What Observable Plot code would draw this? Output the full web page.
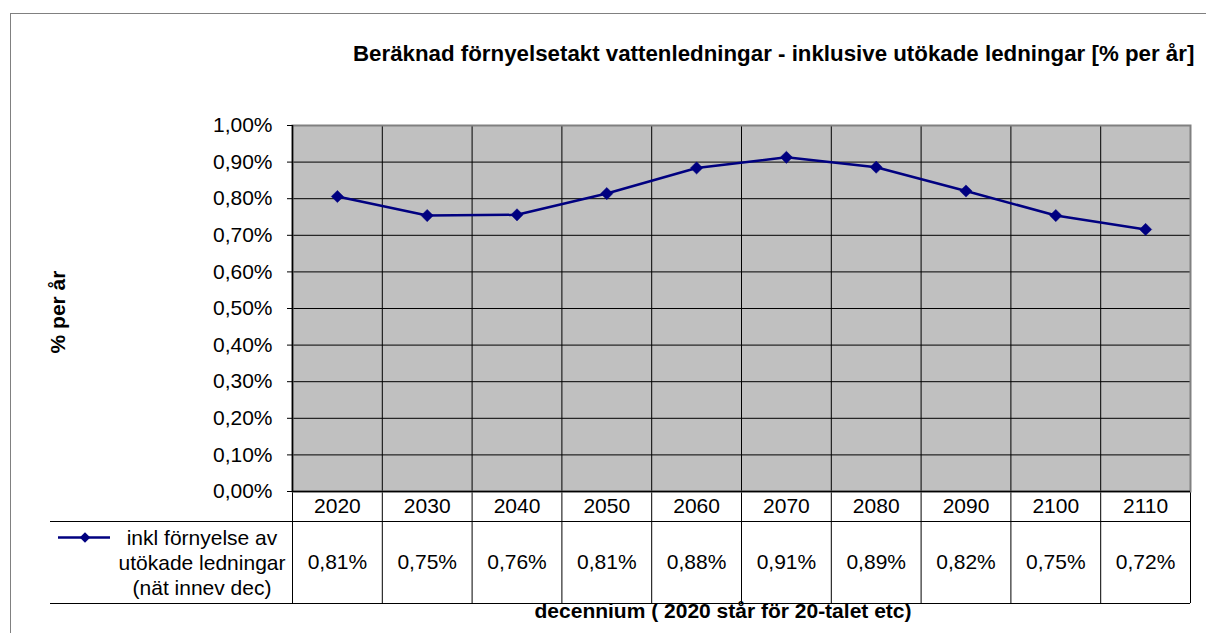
<!DOCTYPE html>
<html><head><meta charset="utf-8">
<script src="https://cdn.jsdelivr.net/npm/d3@7"></script>
<script src="https://cdn.jsdelivr.net/npm/@observablehq/plot@0.6"></script>
<style>
body{margin:0;background:#fff;}
#wrap{position:relative;width:1206px;height:633px;overflow:hidden;font-family:"Liberation Sans",Arial,sans-serif;}
#border{position:absolute;left:10px;top:13px;width:1300px;height:700px;border:1px solid #808080;}
#chart{position:absolute;left:0;top:0;}
</style></head><body>
<div id="wrap"><div id="border"></div><div id="chart"></div></div>
<script>
// ---- data ----
const decades = [2020, 2030, 2040, 2050, 2060, 2070, 2080, 2090, 2100, 2110];
const rates = [0.806, 0.754, 0.756, 0.814, 0.884, 0.913, 0.886, 0.821, 0.754, 0.716]; // % per år
const yTicks = [0, 0.1, 0.2, 0.3, 0.4, 0.5, 0.6, 0.7, 0.8, 0.9, 1.0];
const seriesName = ["inkl förnyelse av", "utökade ledningar", "(nät innev dec)"];
const title = "Beräknad förnyelsetakt vattenledningar - inklusive utökade ledningar [% per år]";
const yTitle = "% per år";
const xTitle = "decennium ( 2020 står för 20-talet etc)";

const fmtPct = d => d.toFixed(2).replace(".", ",") + "%";
const data = decades.map((d, i) => ({decade: d, rate: rates[i], label: fmtPct(rates[i])}));
const bounds = decades.map(d => d - 5).concat([decades[decades.length - 1] + 5]);
const navy = "#000080";
const font = "'Liberation Sans', Arial, sans-serif";

const plot = Plot.plot({
  width: 1206, height: 633,
  marginLeft: 292, marginRight: 16, marginTop: 125, marginBottom: 142,
  style: {fontFamily: font, fontSize: "21px", background: "transparent", color: "black", overflow: "visible"},
  x: {type: "linear", domain: [bounds[0], bounds[bounds.length - 1]], axis: null},
  y: {domain: [0, 1], axis: null},
  marks: [
    Plot.frame({fill: "#c0c0c0"}),
    Plot.ruleY(yTicks, {stroke: "black", strokeWidth: 1}),
    Plot.ruleX(bounds, {stroke: "black", strokeWidth: 1, insetBottom: -112}),
    Plot.ruleY([0], {stroke: "black", dy: 30, insetLeft: -242}),
    Plot.ruleY([0], {stroke: "black", dy: 112, insetLeft: -242}),
    Plot.frame({stroke: "#808080", strokeWidth: 2}),
    Plot.ruleY([0], {stroke: "black", strokeWidth: 1.5}),
    Plot.ruleX([bounds[0]], {stroke: "black", strokeWidth: 1.5}),
    Plot.axisY({ticks: yTicks, tickFormat: fmtPct, tickSize: 5, tickPadding: 15, fontSize: 21, label: null, stroke: "black"}),
    Plot.line(data, {x: "decade", y: "rate", stroke: navy, strokeWidth: 2.5}),
    Plot.dot(data, {x: "decade", y: "rate", symbol: "diamond2", r: 5.5, fill: navy, stroke: navy, strokeWidth: 0.5}),
    Plot.text(decades, {x: d => d, text: d => String(d), frameAnchor: "bottom", lineAnchor: "middle", dy: 15, fontSize: 21, fill: "black"}),
    Plot.text(data, {x: "decade", text: "label", frameAnchor: "bottom", lineAnchor: "middle", dy: 71, fontSize: 21, fill: "black"})
  ]
});
document.getElementById("chart").appendChild(plot);

const svg = d3.select(plot);
const g = svg.append("g").attr("font-family", font).attr("fill", "black");
// legend cell
g.append("line").attr("x1", 58).attr("x2", 110).attr("y1", 537.5).attr("y2", 537.5).attr("stroke", navy).attr("stroke-width", 2.5);
g.append("path").attr("d", d3.symbol(d3.symbolDiamond2, 70)()).attr("transform", "translate(85,537.5)").attr("fill", navy);
seriesName.forEach((t, i) => {
  g.append("text").attr("x", 202).attr("y", 538 + i * 25).attr("dy", "0.35em").attr("text-anchor", "middle").attr("font-size", 21).text(t);
});
// titles
g.append("text").attr("x", 353).attr("y", 61).attr("text-anchor", "start").attr("font-size", 22.3).attr("font-weight", "bold").text(title);
g.append("text").attr("transform", "translate(65,312) rotate(-90)").attr("text-anchor", "middle").attr("font-size", 21).attr("font-weight", "bold").text(yTitle);
g.append("text").attr("x", 723).attr("y", 618).attr("text-anchor", "middle").attr("font-size", 21).attr("font-weight", "bold").text(xTitle);
</script>
</body></html>
